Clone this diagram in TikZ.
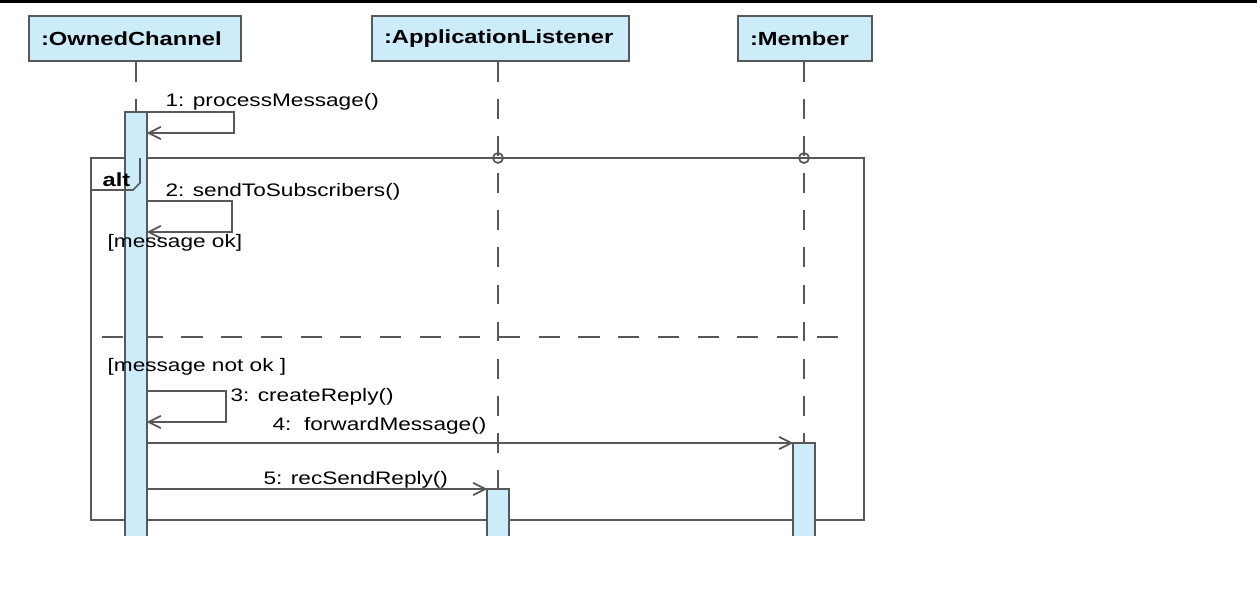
\documentclass[tikz,border=0pt]{standalone}
\usepackage{fontspec}
\setmainfont[FakeStretch=1.25]{Liberation Sans}
\usetikzlibrary{arrows.meta,positioning,calc}
\definecolor{barblue}{RGB}{204,236,250}
\definecolor{umlgray}{RGB}{88,88,88}
\newcommand{\lblfont}{\fontsize{10.3}{12}\selectfont}
\newcommand{\headfont}{\fontsize{10.8}{12}\selectfont\bfseries}
\tikzset{every picture/.style={line width=0.75pt}}
\tikzset{
  line/.style={draw=umlgray, line width=1pt},
  head/.style={draw=umlgray, fill=barblue, line width=1.2pt, anchor=north west,
    minimum height=0.9cm, inner xsep=0.24cm, text width=#1, align=left, font=\headfont},
  bar/.style={fill=barblue, anchor=north, minimum width=0.4cm, minimum height=#1, inner sep=0pt},
  life/.style={line, dash pattern=on 11.3pt off 9.8pt},
  sep/.style={line, dash pattern=on 12pt off 10.6pt},
  msg/.style={line, -{Straight Barb[length=7pt,width=7pt]}},
  gate/.style={draw=umlgray, line width=1pt, circle, minimum size=0.2cm, inner sep=0pt},
  lbl/.style={anchor=base west, inner sep=0pt, font=\lblfont}
}

\begin{document}
\begin{tikzpicture}[x=0.02cm, y=-0.02cm]
    \fill[white] (0,0) rectangle (1257,595);
    \useasboundingbox (0,0) rectangle (1257,595);
    % top rule
    \fill[black] (0,0) rectangle (1257,3);
    % lifeline heads
    \node[head=3.76cm] (oc) at (28,15) {:OwnedChannel};
    \node[head=4.66cm] (al) at (371,15) {:ApplicationListener};
    \node[head=2.2cm] (mb) at (737,15) {:Member};
    % alt frame
    \draw[line] (91,158) rectangle (864,520);
    \draw[sep] (102,337) -- (850,337);
    % activation bars
    \node[bar=8.46cm] (ocbar) at (136,112) {};
    \node[bar=0.92cm] (albar) at (498,489) {};
    \node[bar=1.84cm] (mbbar) at (804,443) {};
    \foreach \b in {ocbar,albar,mbbar}
      \draw[line] (\b.south west) |- (\b.north east) -- (\b.south east);
    % lifelines
    \draw[life] (ocbar.north |- oc.south) -- (ocbar.north);
    \draw[life] (albar.north |- al.south) -- (albar.north);
    \draw[life] (mbbar.north |- mb.south) -- (mbbar.north);
    \node[gate] (algate) at (498,158) {};
    \node[gate] (mbgate) at (804,158) {};
    % alt tab
    \draw[line] (91,190) -- (133,190) -- (140,183) -- (140,158);
    \node[lbl, font=\headfont] (alt) at (102,186) {alt};
    % messages
    \coordinate (r1) at (0,112);
    \coordinate (r2) at (0,201);
    \coordinate (r3) at (0,391);
    \draw[msg] (ocbar.east |- r1) -- ++(87,0) -- ++(0,21) -- ++(-87,0);
    \node[lbl] (t1) at (165,106) {1: processMessage()};
    \draw[msg] (ocbar.east |- r2) -- ++(85,0) -- ++(0,31) -- ++(-85,0);
    \node[lbl] (t2) at (165,196) {2: sendToSubscribers()};
    \node[lbl] (g1) at (107,247) {[message ok]};
    \node[lbl] (g2) at (107,371) {[message not ok ]};
    \draw[msg] (ocbar.east |- r3) -- ++(79,0) -- ++(0,31) -- ++(-79,0);
    \node[lbl] (t3) at (230,401) {3: createReply()};
    \draw[msg] (ocbar.east |- mbbar.north west) -- (mbbar.north west);
    \node[lbl] (t4) at (272,430) {4:\ \ forwardMessage()};
    \draw[msg] (ocbar.east |- albar.north west) -- (albar.north west);
    \node[lbl] (t5) at (263,484) {5: recSendReply()};
\end{tikzpicture}
\end{document}
